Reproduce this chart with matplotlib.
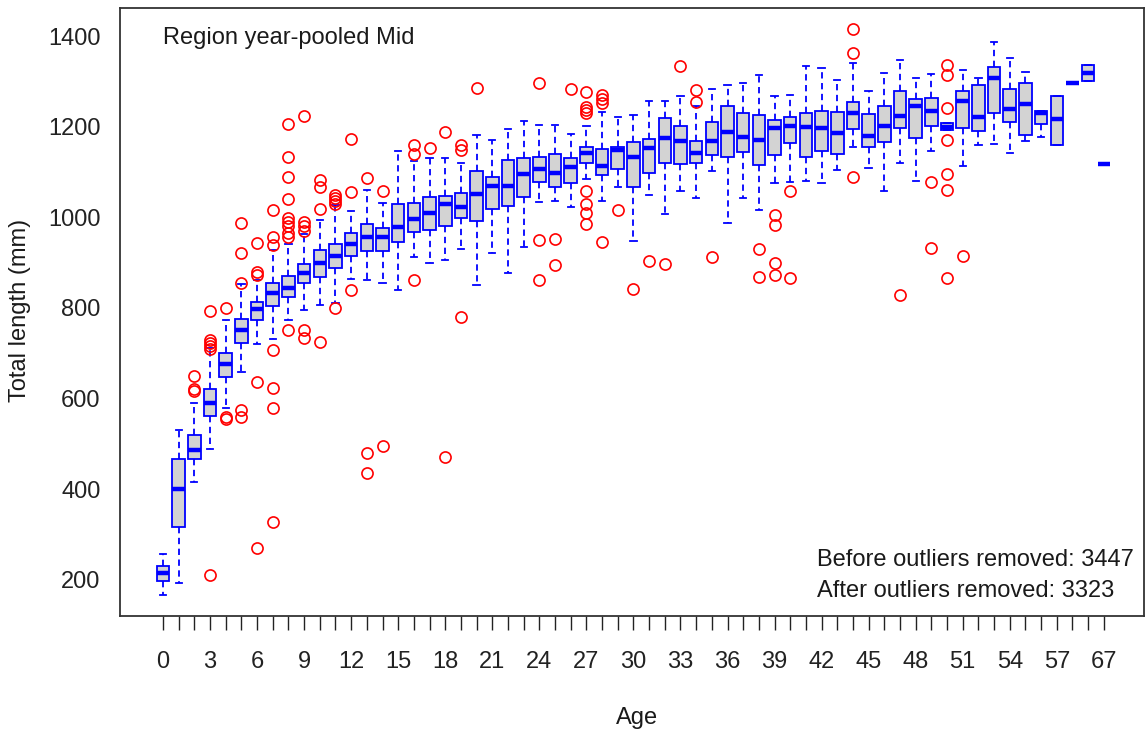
import matplotlib
matplotlib.use("Agg")
import matplotlib.pyplot as plt

plt.rcParams['font.family'] = ['Liberation Sans', 'DejaVu Sans']

# ages present in the data (58/59 unlabeled in the original, guessed)
ages = list(range(58)) + [60, 63, 67]

q1 = [198, 317, 467, 562, 648, 723, 773, 804, 824, 855,
      868, 888, 915, 926, 926, 946, 968, 972, 981, 998,
      992, 1018, 1025, 1045, 1078, 1067, 1076, 1120, 1093, 1107,
      1067, 1098, 1120, 1118, 1120, 1138, 1133, 1144, 1115, 1138,
      1164, 1133, 1146, 1140, 1195, 1155, 1166, 1197, 1175, 1201,
      1193, 1197, 1190, 1230, 1210, 1182, 1206, 1160, 1296, 1301, 1118]
med = [215, 401, 487, 590, 676, 751, 798, 833, 844, 877,
       899, 915, 941, 957, 957, 979, 996, 1009, 1029, 1023,
       1051, 1069, 1069, 1096, 1107, 1098, 1111, 1142, 1113, 1149,
       1133, 1153, 1175, 1168, 1142, 1168, 1188, 1177, 1171, 1197,
       1201, 1199, 1197, 1186, 1230, 1179, 1201, 1224, 1246, 1234,
       1199, 1257, 1222, 1307, 1239, 1250, 1230, 1217, 1296, 1318, 1118]
q3 = [231, 467, 520, 621, 701, 776, 813, 855, 871, 897,
      928, 941, 965, 985, 976, 1029, 1032, 1045, 1047, 1054,
      1102, 1089, 1126, 1131, 1133, 1140, 1131, 1155, 1151, 1155,
      1166, 1173, 1219, 1201, 1168, 1210, 1246, 1230, 1226, 1215,
      1221, 1230, 1235, 1232, 1254, 1228, 1246, 1279, 1261, 1263,
      1208, 1279, 1292, 1332, 1283, 1296, 1235, 1268, 1296, 1336, 1118]
whislo = [167, 193, 416, 489, 579, 659, 721, 732, 773, 796,
          807, 811, 864, 862, 855, 840, 912, 899, 906, 930,
          851, 921, 877, 935, 1034, 1036, 1023, 1085, 1036, 1067,
          948, 1049, 1007, 1058, 1043, 1102, 987, 1043, 1016, 1076,
          1078, 1080, 1076, 1104, 1155, 1109, 1058, 1120, 1080, 1146,
          1193, 1113, 1160, 1162, 1142, 1168, 1177, 1160, 1296, 1301, 1118]
whishi = [257, 531, 590, 712, 773, 853, 862, 928, 941, 963,
          994, 1027, 1014, 1060, 1032, 1146, 1124, 1131, 1131, 1120,
          1182, 1171, 1195, 1212, 1204, 1204, 1184, 1201, 1232, 1221,
          1226, 1257, 1257, 1268, 1246, 1283, 1292, 1296, 1314, 1268,
          1270, 1334, 1329, 1303, 1340, 1279, 1318, 1347, 1307, 1316,
          1208, 1325, 1307, 1387, 1351, 1321, 1235, 1268, 1296, 1336, 1118]
outliers = [
    [], [], [650, 621, 617], [793, 730, 722, 716, 710, 211], [800, 560, 555],
    [987, 921, 855, 575, 560], [943, 880, 873, 637, 270],
    [1016, 957, 939, 707, 623, 579, 328],
    [1206, 1133, 1089, 1040, 998, 990, 980, 965, 957, 751],
    [1224, 990, 980, 970, 751, 734], [1082, 1067, 1018, 725],
    [1050, 1042, 1036, 1030, 800], [1173, 1056, 840], [1087, 480, 436],
    [1058, 496], [], [1160, 1140, 862], [1153], [1188, 471], [1160, 1149, 780],
    [1285], [], [], [], [1296, 950, 862], [952, 895], [1283],
    [1276, 1243, 1236, 1230, 1058, 1029, 1010, 985], [1270, 1261, 1252, 946],
    [1016], [842], [904], [897], [1334], [1281, 1254], [913], [], [],
    [930, 868], [1005, 983, 899, 873], [1058, 866], [], [], [],
    [1415, 1362, 1089], [], [], [829], [], [1078, 932],
    [1336, 1314, 1241, 1171, 1096, 1060, 866], [915],
    [], [], [], [], [], [], [], [], [],
]

stats = []
for i in range(len(ages)):
    stats.append(dict(med=med[i], q1=q1[i], q3=q3[i], whislo=whislo[i],
                      whishi=whishi[i], fliers=outliers[i], label=str(ages[i])))

fig = plt.figure(figsize=(11.48, 7.36), dpi=100)
ax = fig.add_axes([120/1148, 1-616/736, 1024/1148, 608/736])

ax.bxp(stats, positions=range(len(ages)), widths=0.8, patch_artist=True,
       boxprops=dict(facecolor='#d3d3d3', edgecolor='blue', linewidth=1.3),
       medianprops=dict(color='blue', linewidth=3.2, solid_capstyle='butt'),
       whiskerprops=dict(color='blue', linestyle=(0, (3.5, 2.5)), linewidth=1.3),
       capprops=dict(color='blue', linewidth=1.3),
       flierprops=dict(marker='o', markerfacecolor='none', markeredgecolor='red',
                       markersize=8, markeredgewidth=1.2))

ax.set_xlim(-2.74, 62.56)
ax.set_ylim(120, 1462)
ax.set_xticks(range(len(ages)))
ax.set_xticklabels([str(a) if i % 3 == 0 else '' for i, a in enumerate(ages)])
ax.set_yticks([200, 400, 600, 800, 1000, 1200, 1400])
ax.tick_params(axis='x', length=10, width=1, pad=15, labelsize=17, colors='#222222')
ax.tick_params(axis='y', length=0, pad=14, labelsize=17, colors='#222222')
for s in ax.spines.values():
    s.set_color('#333333')
    s.set_linewidth(1.3)

ax.text(0.042, 0.951, 'Region year-pooled Mid', transform=ax.transAxes,
        fontsize=17, va='center', ha='left', color='#1a1a1a')
ax.text(0.681, 0.092, 'Before outliers removed: 3447', transform=ax.transAxes,
        fontsize=17, va='center', ha='left', color='#1a1a1a')
ax.text(0.681, 0.041, 'After outliers removed: 3323', transform=ax.transAxes,
        fontsize=17, va='center', ha='left', color='#1a1a1a')

fig.text(20/1148, 1-310/736, 'Total length (mm)', rotation=90,
         ha='center', va='center', fontsize=17, color='#1a1a1a')
fig.text(637/1148, 1-718/736, 'Age', ha='center', va='center',
         fontsize=17, color='#1a1a1a')

fig.savefig('out.png', dpi=100)
